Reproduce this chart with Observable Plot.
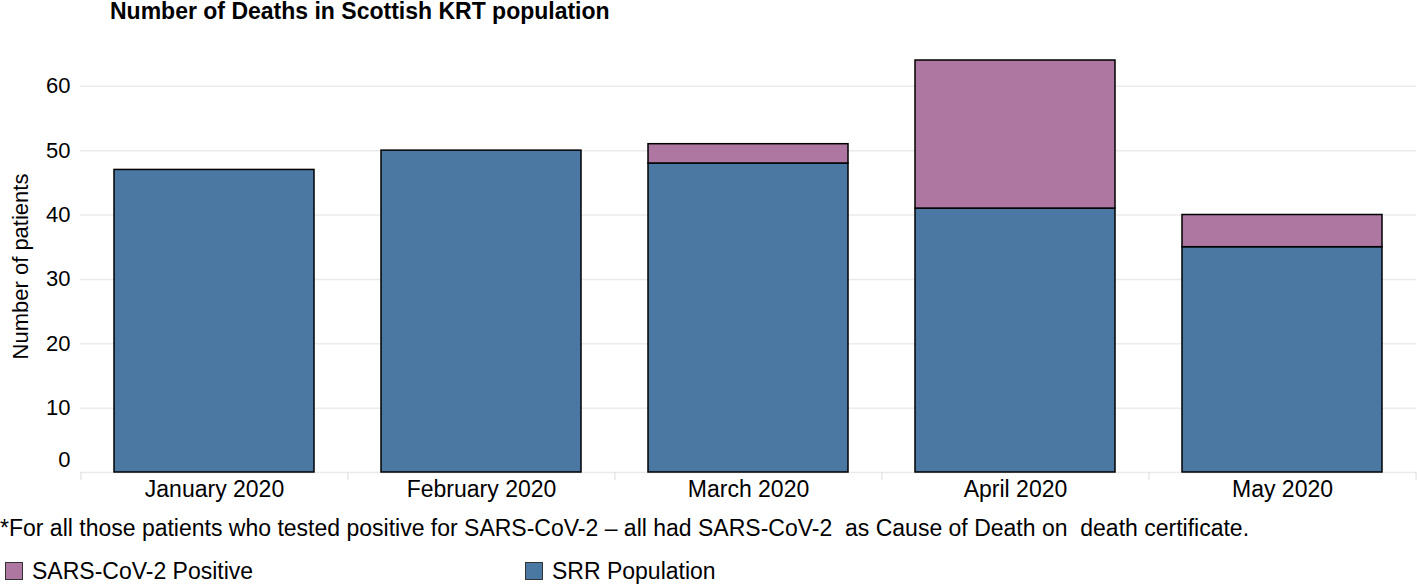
<!DOCTYPE html>
<html>
<head>
<meta charset="utf-8">
<script src="https://cdn.jsdelivr.net/npm/d3@7"></script>
<script src="https://cdn.jsdelivr.net/npm/@observablehq/plot@0.6"></script>
<style>
  body { margin: 0; background: #fff; font-family: "Liberation Sans", Arial, sans-serif; color: #000; }
  #title { height: 26px; line-height: 22px; padding-left: 110px; font-weight: bold; font-size: 23px; white-space: nowrap; }
  #note { margin-top: 13px; font-size: 23px; line-height: 26px; padding-left: 0px; white-space: nowrap; }
  #legend { margin-top: 17px; position: relative; height: 26px; font-size: 23px; line-height: 26px; }
  .item { position: absolute; top: 0; display: flex; align-items: center; white-space: nowrap; }
  .sw { width: 16px; height: 16px; border: 1.5px solid #333; margin-right: 9px; }
</style>
</head>
<body>
<div id="title">Number of Deaths in Scottish KRT population</div>
<div id="chart"></div>
<div id="note">*For all those patients who tested positive for SARS-CoV-2 – all had SARS-CoV-2&nbsp; as Cause of Death on&nbsp; death certificate.</div>
<div id="legend"></div>
<script>
const months = ["January 2020", "February 2020", "March 2020", "April 2020", "May 2020"];
const seriesNames = ["SRR Population", "SARS-CoV-2 Positive"];
const srrValues = [47, 50, 48, 41, 35];
const sarsValues = [0, 0, 3, 23, 5];
const colors = ["#4a78a3", "#ae77a2"];
const yTicks = [10, 20, 30, 40, 50, 60];
const legendOrder = ["SARS-CoV-2 Positive", "SRR Population"];

const rows = [];
months.forEach((m, i) => rows.push({month: m, series: seriesNames[0], value: srrValues[i]}));
months.forEach((m, i) => { if (sarsValues[i] > 0) rows.push({month: m, series: seriesNames[1], value: sarsValues[i]}); });

const width = 1418, step = (width - 2 - 80.5) / months.length;

const chart = Plot.plot({
  width: 1418,
  height: 476,
  marginTop: 34,
  marginBottom: 30,
  marginLeft: 80,
  marginRight: 2,
  style: {fontFamily: "Liberation Sans, Arial, sans-serif", fontSize: "22px", color: "#000"},
  x: {domain: months, paddingInner: 0.25, paddingOuter: 0.125, label: null},
  y: {domain: [0, 64], label: null},
  color: {domain: seriesNames, range: colors},
  marks: [
    Plot.gridY([0, ...yTicks], {stroke: "#ebebeb", strokeOpacity: 1, strokeWidth: 1.5}),
    Plot.ruleX(months, {x: d => d, y1: 0, y2: 0, insetBottom: -8, dx: -step / 2, stroke: "#dcdcdc"}),
    Plot.ruleX([months[months.length - 1]], {x: d => d, y1: 0, y2: 0, insetBottom: -8, dx: step / 2, stroke: "#dcdcdc"}),
    Plot.barY(rows, Plot.stackY({x: "month", y: "value", fill: "series", order: seriesNames, stroke: "#000", strokeWidth: 1.5})),
    Plot.axisY(yTicks, {tickSize: 0, tickPadding: 10, fontSize: 22, label: "Number of patients", labelAnchor: "center", labelArrow: "none", labelOffset: 68}),
    Plot.axisY([0], {tickSize: 0, tickPadding: 10, fontSize: 22, dy: -13, label: null}),
    Plot.axisX({tickSize: 0, tickPadding: 8, fontSize: 23, label: null})
  ]
});
document.getElementById("chart").appendChild(chart);

const leg = document.getElementById("legend");
const lefts = [5, 525];
legendOrder.forEach((name, i) => {
  const it = document.createElement("div");
  it.className = "item";
  it.style.left = lefts[i] + "px";
  const sw = document.createElement("div");
  sw.className = "sw";
  sw.style.background = colors[seriesNames.indexOf(name)];
  const t = document.createElement("span");
  t.textContent = name;
  it.appendChild(sw); it.appendChild(t);
  leg.appendChild(it);
});
</script>
</body>
</html>
